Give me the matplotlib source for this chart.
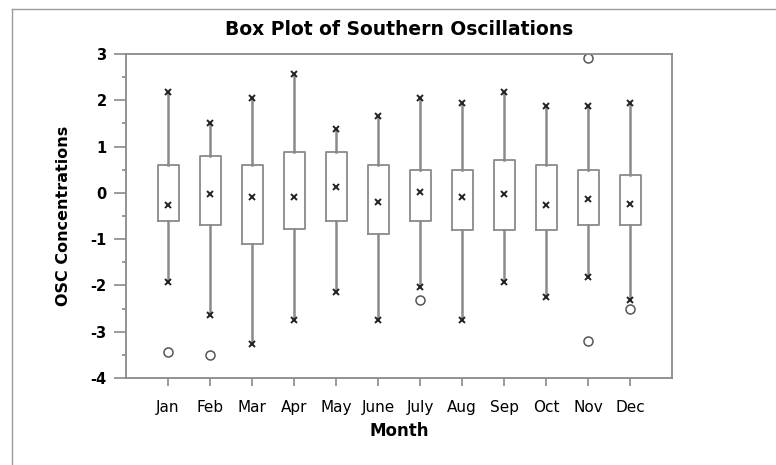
import numpy as np
import matplotlib
matplotlib.use("Agg")
import matplotlib.pyplot as plt
from matplotlib.ticker import MultipleLocator

plt.rcParams['font.family'] = ['DejaVu Sans']
plt.rcParams['axes.unicode_minus'] = False

# values
months = ['Jan', 'Feb', 'Mar', 'Apr', 'May', 'June', 'July', 'Aug', 'Sep', 'Oct', 'Nov', 'Dec']
whis_hi = [2.17, 1.50, 2.06, 2.57, 1.37, 1.66, 2.06, 1.95, 2.17, 1.88, 1.88, 1.95]
q3 = [0.60, 0.80, 0.60, 0.89, 0.89, 0.60, 0.49, 0.49, 0.70, 0.60, 0.49, 0.38]
median = [-0.27, -0.02, -0.09, -0.09, 0.12, -0.20, 0.02, -0.09, -0.02, -0.27, -0.13, -0.24]
q1 = [-0.61, -0.70, -1.11, -0.79, -0.61, -0.89, -0.61, -0.80, -0.80, -0.80, -0.70, -0.70]
whis_lo = [-1.93, -2.64, -3.26, -2.75, -2.14, -2.75, -2.03, -2.75, -1.93, -2.25, -1.82, -2.31]
outliers = [[-3.43], [-3.51], [], [], [], [], [-2.32], [], [], [], [2.91, -3.21], [-2.50]]

stats = []
for i, m in enumerate(months):
    stats.append({'label': m, 'med': median[i], 'mean': median[i],
                  'q1': q1[i], 'q3': q3[i],
                  'whislo': whis_lo[i], 'whishi': whis_hi[i],
                  'fliers': outliers[i]})

fig = plt.figure(figsize=(7.76, 4.65), dpi=100)
ax = fig.add_axes([0.1624, 0.187, 0.7036, 0.6969])

gray = '#8a8a8a'
pos = np.arange(1, len(months) + 1)
ax.bxp(stats, positions=pos, widths=0.5, showmeans=True, showcaps=False,
       boxprops=dict(color=gray, linewidth=1.3),
       whiskerprops=dict(color=gray, linewidth=1.8),
       medianprops=dict(visible=False),
       meanprops=dict(marker='x', markersize=4.5, markeredgecolor='#222222',
                      markeredgewidth=1.4),
       flierprops=dict(marker='o', markersize=6.5, markerfacecolor='none',
                       markeredgecolor='#555555', markeredgewidth=1.1))

# x marks at the whisker ends
ax.plot(pos, whis_hi, 'x', ms=4.5, mec='#222222', mew=1.4, ls='none')
ax.plot(pos, whis_lo, 'x', ms=4.5, mec='#222222', mew=1.4, ls='none')

ax.set_xlim(0, 13)
ax.set_ylim(-4, 3)
ax.set_xticks(pos)
ax.set_xticklabels(months, fontsize=11)
ax.yaxis.set_major_locator(MultipleLocator(1))
ax.yaxis.set_minor_locator(MultipleLocator(0.5))
for lab in ax.get_yticklabels():
    lab.set_fontweight('bold')
    lab.set_fontsize(10.5)

for s in ax.spines.values():
    s.set_color(gray)
    s.set_linewidth(1.3)
ax.tick_params(axis='y', which='major', length=9, width=1.2, color=gray, pad=5)
ax.tick_params(axis='y', which='minor', length=3, width=1.2, color=gray)
ax.tick_params(axis='x', which='major', length=6, width=1.2, color=gray, pad=10)

ax.set_title('Box Plot of Southern Oscillations', fontsize=13.5,
             fontweight='bold', pad=14)
ax.set_xlabel('Month', fontsize=12, fontweight='bold', labelpad=5)
ax.set_ylabel('OSC Concentrations', fontsize=11.5, fontweight='bold', labelpad=14)

# outer page frame (left and top edges)
fig.add_artist(plt.Line2D([12 / 776, 12 / 776], [0, 1 - 9 / 465],
                          transform=fig.transFigure, color='#9a9a9a', lw=1))
fig.add_artist(plt.Line2D([12 / 776, 1], [1 - 9 / 465, 1 - 9 / 465],
                          transform=fig.transFigure, color='#9a9a9a', lw=1))

fig.savefig('out.png', dpi=100)
